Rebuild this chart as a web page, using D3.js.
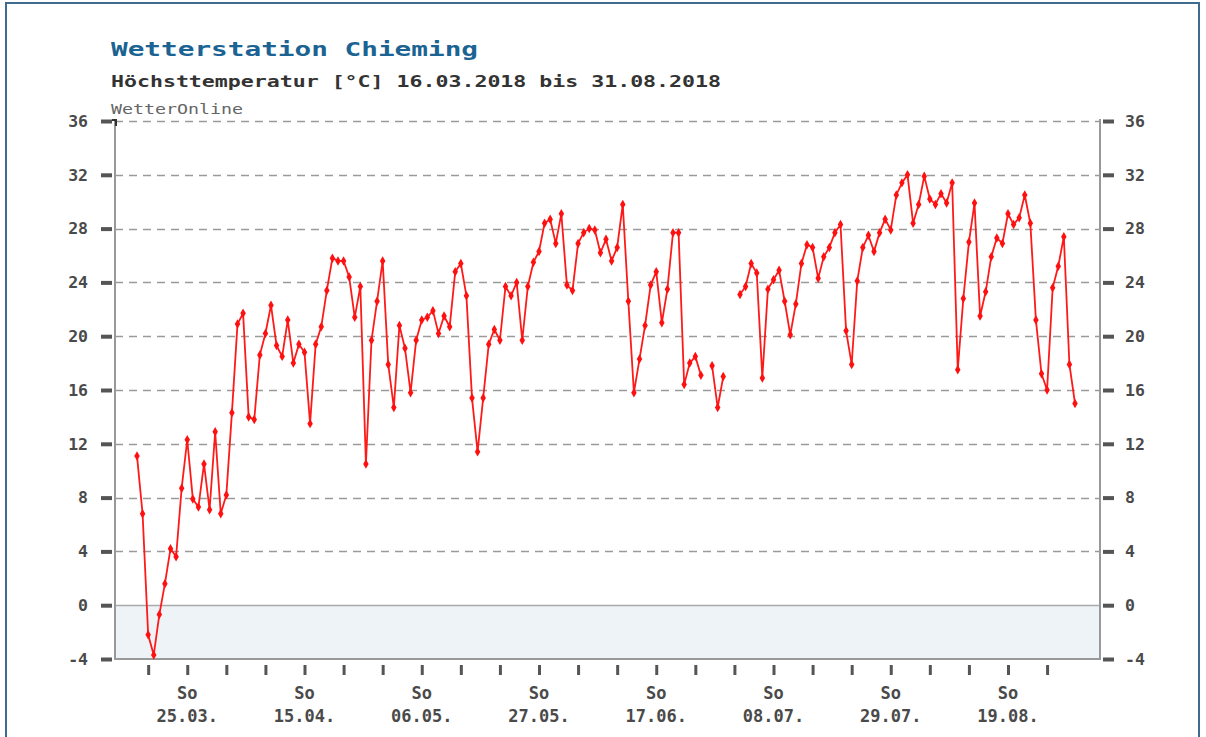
<!DOCTYPE html>
<html>
<head>
<meta charset="utf-8">
<script src="https://cdn.jsdelivr.net/npm/d3@7"></script>
<style>
  html, body { margin: 0; padding: 0; background: #fff; }
  svg { display: block; }
  text { font-family: "DejaVu Sans Mono", "Liberation Mono", monospace; }
</style>
</head>
<body>
<svg id="chart" width="1206" height="737"></svg>
<script>
// ---- Data ----
const title = "Wetterstation Chieming";
const subtitle = "Höchsttemperatur [°C] 16.03.2018 bis 31.08.2018";
const source = "WetterOnline";
const startDate = "2018-03-16";
const endDate = "2018-08-31";
// daily maximum temperature (°C), one value per day from 16.03. (null = no data)
const tmax = [
  11.1, 6.8, -2.2, -3.7, -0.7, 1.6, 4.2, 3.6, 8.7, 12.3,
  7.9, 7.3, 10.5, 7.1, 12.9, 6.8, 8.2, 14.3, 20.9, 21.7,
  14.0, 13.8, 18.6, 20.2, 22.3, 19.3, 18.5, 21.2, 18.0, 19.4,
  18.8, 13.5, 19.4, 20.7, 23.4, 25.8, 25.6, 25.6, 24.4, 21.4,
  23.7, 10.5, 19.7, 22.6, 25.6, 17.9, 14.7, 20.8, 19.1, 15.8,
  19.7, 21.2, 21.4, 21.9, 20.2, 21.5, 20.7, 24.8, 25.4, 23.0,
  15.4, 11.4, 15.4, 19.4, 20.5, 19.7, 23.7, 23.0, 24.0, 19.7,
  23.7, 25.5, 26.3, 28.4, 28.7, 26.9, 29.1, 23.8, 23.4, 26.9,
  27.7, 28.0, 27.9, 26.2, 27.2, 25.6, 26.6, 29.8, 22.6, 15.8,
  18.3, 20.8, 23.8, 24.8, 21.0, 23.5, 27.7, 27.7, 16.4, 18.0,
  18.5, 17.1, null, 17.8, 14.7, 17.0, null, null, 23.1, 23.7,
  25.4, 24.7, 16.9, 23.5, 24.2, 24.9, 22.6, 20.1, 22.4, 25.4,
  26.8, 26.6, 24.3, 25.9, 26.6, 27.7, 28.3, 20.4, 17.9, 24.1,
  26.6, 27.5, 26.3, 27.7, 28.7, 27.9, 30.5, 31.4, 32.0, 28.4,
  29.8, 31.9, 30.2, 29.8, 30.6, 29.9, 31.4, 17.5, 22.8, 27.0,
  29.9, 21.5, 23.3, 25.9, 27.3, 26.9, 29.1, 28.3, 28.8, 30.5,
  28.4, 21.2, 17.2, 16.0, 23.6, 25.2, 27.4, 17.9, 15.0
];
const yTicks = [-4, 0, 4, 8, 12, 16, 20, 24, 28, 32, 36];
const weekdayLabel = "So";

// ---- Build ----
const parse = d3.utcParse("%Y-%m-%d");
const d0 = parse(startDate), d1 = parse(endDate);
const data = tmax.map((v, i) => ({ date: d3.utcDay.offset(d0, i), v }));

const svg = d3.select("#chart");
const plot = { left: 115, right: 1100, top: 121, bottom: 659 };

const x = d3.scaleUtc().domain([d0, d1]).range([137, 1075]);
const y = d3.scaleLinear().domain([-4, 36]).range([plot.bottom, plot.top]);

// outer border
svg.append("rect").attr("x", 6).attr("y", 3).attr("width", 1193).attr("height", 800)
  .attr("fill", "#fff").attr("stroke", "#3f6b8c").attr("stroke-width", 2);

// below-zero band
svg.append("rect")
  .attr("x", plot.left).attr("y", y(0))
  .attr("width", plot.right - plot.left).attr("height", y(-4) - y(0))
  .attr("fill", "#eef3f8");

// gridlines
svg.append("g").selectAll("line")
  .data(yTicks.filter(t => t > -4))
  .join("line")
  .attr("x1", plot.left).attr("x2", plot.right)
  .attr("y1", d => Math.round(y(d)) + 0.5).attr("y2", d => Math.round(y(d)) + 0.5)
  .attr("stroke", d => d === 0 ? "#aaa" : "#9a9a9a")
  .attr("stroke-width", 1.5)
  .attr("stroke-dasharray", d => d === 0 ? null : "8,6");

// frame lines (left, right, bottom)
const frame = svg.append("g").attr("stroke", "#999").attr("fill", "none").attr("stroke-width", 2);
frame.append("line").attr("x1", plot.left).attr("x2", plot.left).attr("y1", plot.top - 2).attr("y2", plot.bottom + 1);
frame.append("line").attr("x1", plot.right).attr("x2", plot.right).attr("y1", plot.top - 2).attr("y2", plot.bottom + 1);
frame.append("line").attr("x1", plot.left).attr("x2", plot.right).attr("y1", plot.bottom).attr("y2", plot.bottom);
svg.append("path").attr("d", `M${plot.left - 3},${plot.top - 1}H${plot.left + 1}V${plot.top + 5}`)
  .attr("stroke", "#333").attr("stroke-width", 2).attr("fill", "none");

// y axes
const yFmt = d => String(d);
function styleAxis(g) {
  g.select(".domain").remove();
  g.selectAll(".tick line").attr("stroke", "#555").attr("stroke-width", 4);
  g.selectAll(".tick text")
    .attr("fill", "#4a4a4a").attr("font-size", 16.5).attr("font-weight", "bold");
}
svg.append("g").attr("transform", `translate(${plot.left - 3},0)`)
  .call(d3.axisLeft(y).tickValues(yTicks).tickSize(11).tickPadding(13).tickFormat(yFmt))
  .call(styleAxis);
svg.append("g").attr("transform", `translate(${plot.right + 3},0)`)
  .call(d3.axisRight(y).tickValues(yTicks).tickSize(11).tickPadding(11).tickFormat(yFmt))
  .call(styleAxis);

// x axis: weekly ticks on Sundays, labels every third week
const sundays = d3.utcSunday.range(d0, d3.utcDay.offset(d1, 1));
const xAxisG = svg.append("g").attr("transform", `translate(0,${plot.bottom + 6})`)
  .call(d3.axisBottom(x).tickValues(sundays).tickSize(10).tickFormat(() => ""));
xAxisG.select(".domain").remove();
xAxisG.selectAll(".tick line").attr("stroke", "#555").attr("stroke-width", 3);
const fmt = d3.utcFormat("%d.%m.");
const labelled = sundays.filter((d, i) => i % 3 === 1);
const xl = svg.append("g").attr("fill", "#4a4a4a").attr("font-size", 17).attr("font-weight", "bold")
  .attr("text-anchor", "middle");
xl.selectAll("text.wd").data(labelled).join("text").attr("class", "wd")
  .attr("x", d => x(d)).attr("y", 699).text(weekdayLabel);
xl.selectAll("text.dt").data(labelled).join("text").attr("class", "dt")
  .attr("x", d => x(d)).attr("y", 722).text(d => fmt(d));

// line
const line = d3.line().defined(d => d.v != null).x(d => x(d.date)).y(d => y(d.v));
svg.append("path").datum(data).attr("d", line)
  .attr("fill", "none").attr("stroke", "#ff1a1a").attr("stroke-width", 1.8);
svg.append("g").selectAll("path").data(data.filter(d => d.v != null)).join("path")
  .attr("transform", d => `translate(${x(d.date)},${y(d.v)})`)
  .attr("d", d3.symbol(d3.symbolDiamond, 26))
  .attr("fill", "#ff1010");

// titles
svg.append("text").attr("x", 111).attr("y", 56).text(title)
  .attr("font-size", 20).attr("font-weight", "bold").attr("fill", "#1a6392")
  .attr("textLength", 367).attr("lengthAdjust", "spacingAndGlyphs");
svg.append("text").attr("x", 111).attr("y", 87).text(subtitle)
  .attr("font-size", 16).attr("font-weight", "bold").attr("fill", "#333")
  .attr("textLength", 610).attr("lengthAdjust", "spacingAndGlyphs");
svg.append("text").attr("x", 111).attr("y", 114).text(source)
  .attr("font-size", 14).attr("fill", "#666")
  .attr("textLength", 132).attr("lengthAdjust", "spacingAndGlyphs");
</script>
</body>
</html>
